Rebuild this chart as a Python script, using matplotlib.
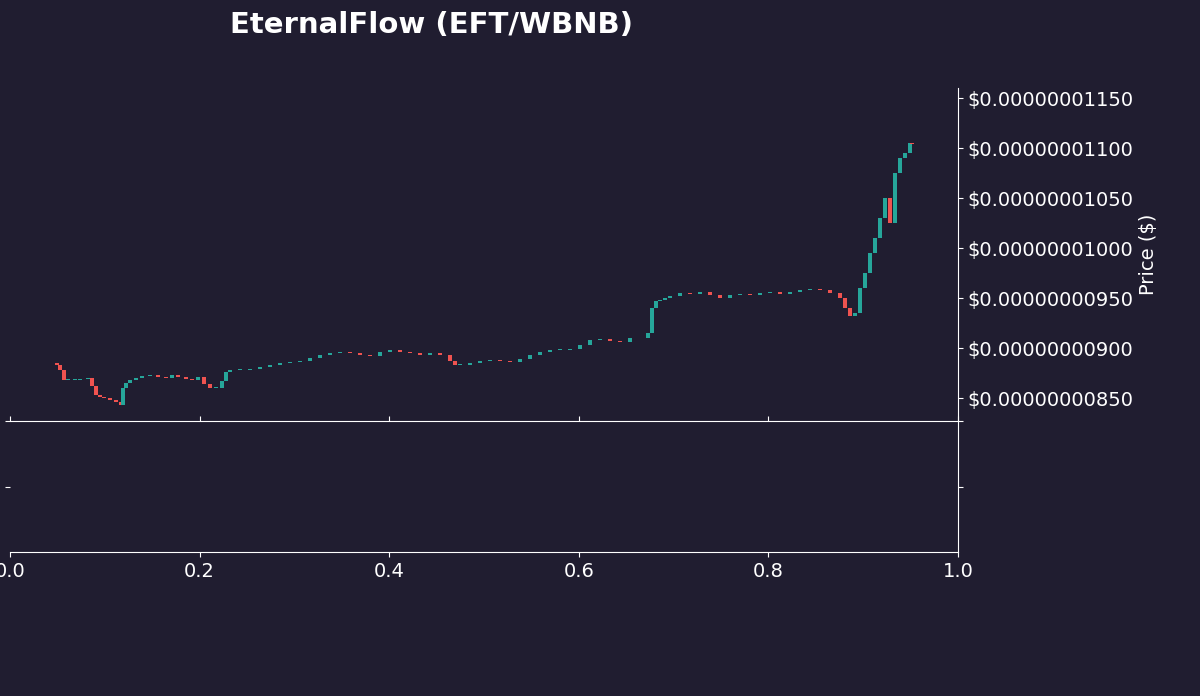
import matplotlib
matplotlib.use("Agg")
import matplotlib.pyplot as plt
import matplotlib.ticker as mt

px = [57,60,64,68,75,80,88,92,96,100,104,110,116,121,123,126,130,136,142,150,158,166,172,178,186,192,198,204,210,216,222,226,230,240,250,260,270,280,290,300,310,320,330,340,350,360,370,380,390,400,410,420,430,440,450,455,460,470,480,490,500,510,520,530,540,550,560,570,580,590,600,610,620,630,648,652,656,660,665,670,680,690,700,710,720,730,740,750,760,770,780,790,800,810,820,830,840,845,850,855,860,865,870,875,880,885,890,895,900,905,910,912]
closes = [883,878,868,868,868,869,870,862,853,851,850,848,846,843,860,865,868,870,872,873,871,870,873,871,869,868,871,864,860,860,867,876,878,878,879,881,883,885,886,887,890,893,895,896,895,893,892,896,898,896,895,893,895,893,887,883,883,885,887,888,887,886,889,893,896,898,898,899,903,908,909,907,906,910,915,940,947,948,950,952,955,954,956,953,950,953,954,953,955,956,954,956,958,959,958,955,950,940,932,935,960,975,995,1010,1030,1050,1025,1075,1090,1095,1105,1104]
x = [(p - 10) / 948 for p in px]
opens = [closes[0] + 2] + closes[:-1]

BG = "#201d30"
UP, DN = "#26a69a", "#ef5350"
fig = plt.figure(figsize=(12, 6.96), dpi=100, facecolor=BG)
ax2 = fig.add_axes([10/1200, 1-552/696, 948/1200, 131/696], facecolor=BG)
ax = fig.add_axes([10/1200, 1-421/696, 948/1200, (421-88)/696], facecolor="none")

for xi, o, c in zip(x, opens, closes):
    col = UP if c >= o else DN
    lo, hi = min(o, c), max(o, c)
    if hi - lo < 1:
        hi = lo + 1
    ax.bar(xi, (hi - lo) * 1e-11, bottom=lo * 1e-11, width=0.004, color=col)

ax.set_xlim(0, 1)
ax.set_ylim(827e-11, 1160e-11)
ax.yaxis.tick_right()
ax.yaxis.set_label_position("right")
ax.set_yticks([i * 1e-11 for i in range(850, 1151, 50)])
ax.yaxis.set_major_formatter(mt.FuncFormatter(lambda v, p: f"${v:.11f}"))
ax.set_ylabel("Price ($)", color="white", fontsize=14)
ax.set_xticks([0, 0.2, 0.4, 0.6, 0.8, 1.0])
ax.tick_params(axis="x", direction="in", labelbottom=False, colors="white")
ax.tick_params(axis="y", colors="white", labelsize=14)
for s in ["top", "left"]:
    ax.spines[s].set_visible(False)
for s in ["right", "bottom"]:
    ax.spines[s].set_color("white")

ax2.set_xlim(0, 1)
ax2.set_ylim(0, 1)
ax2.set_xticks([0, 0.2, 0.4, 0.6, 0.8, 1.0])
ax2.set_xticklabels(["0.0", "0.2", "0.4", "0.6", "0.8", "1.0"])
ax2.set_yticks([0.5, 1.0])
ax2.tick_params(axis="y", left=True, right=True, labelleft=False, colors="white")
ax2.tick_params(axis="x", colors="white", labelsize=14)
ax2.spines["top"].set_visible(False)
ax2.spines["left"].set_visible(False)
for s in ["right", "bottom"]:
    ax2.spines[s].set_color("white")

fig.text(432/1200, 1-25/696, "EternalFlow (EFT/WBNB)", color="white", fontsize=21,
         fontweight="bold", ha="center", va="center")
fig.savefig("out.png", facecolor=BG)
